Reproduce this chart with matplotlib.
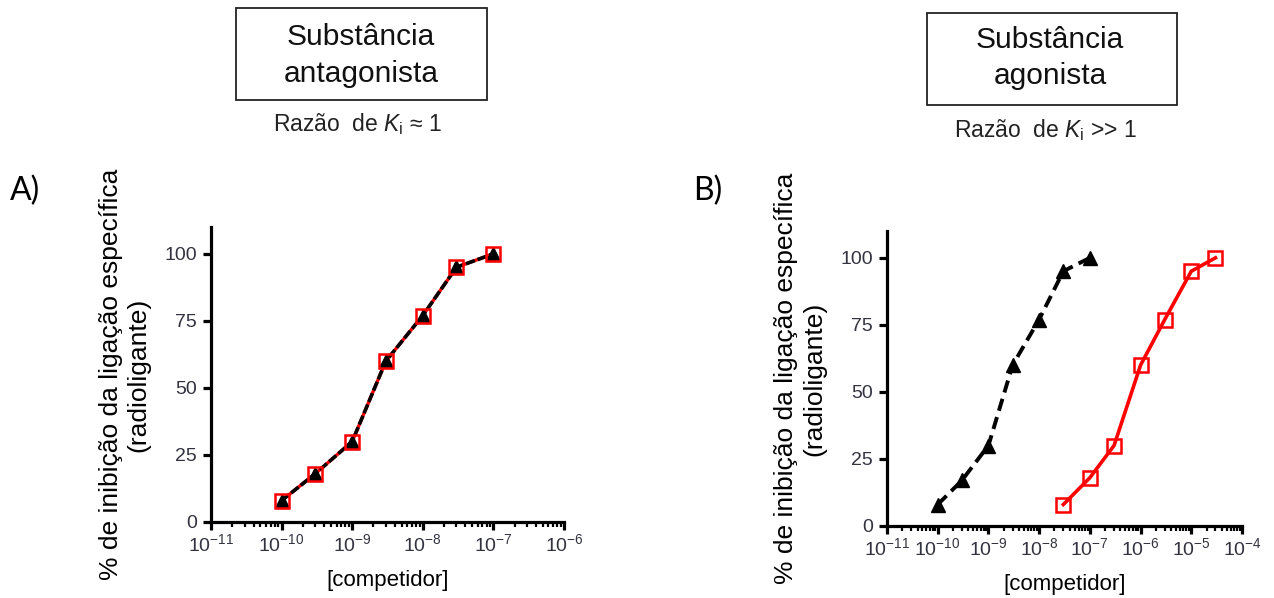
import numpy as np
import matplotlib
matplotlib.use("Agg")
import matplotlib.pyplot as plt
from matplotlib.patches import Rectangle
from matplotlib.ticker import FixedLocator, FuncFormatter, NullFormatter

plt.rcParams['font.family'] = ['Liberation Sans', 'DejaVu Sans']
plt.rcParams['mathtext.fontset'] = 'custom'
plt.rcParams['mathtext.rm'] = 'Liberation Sans'
plt.rcParams['mathtext.it'] = 'Liberation Sans:italic'

W, H = 1274, 598

# panel A: both substances overlap
conc_a = [1e-10, 3e-10, 1e-9, 3e-9, 1e-8, 3e-8, 1e-7]
inib_a = [8, 18, 30, 60, 77, 95, 100]

# panel B: radioligand (triangles) and agonist (squares)
conc_b_tri = [1e-10, 3e-10, 1e-9, 3e-9, 1e-8, 3e-8, 1e-7]
inib_b_tri = [8, 17, 30, 60, 77, 95, 100]
conc_b_sq = [3e-8, 1e-7, 3e-7, 1e-6, 3e-6, 1e-5, 3e-5]
inib_b_sq = [8, 18, 30, 60, 77, 95, 100]

y_ticks = [0, 25, 50, 75, 100]
decades_a = [-11, -10, -9, -8, -7, -6]
decades_b = [-11, -10, -9, -8, -7, -6, -5, -4]

ylabel_txt = "% de inibição da ligação específica\n(radioligante)"
xlabel_txt = "[competidor]"


def px(x, y):
    return x / W, 1 - y / H


def style_axes(ax, decades):
    majors = [10.0 ** d for d in decades]
    minors = [m * 10.0 ** d for d in decades[:-1] for m in range(2, 10)]
    ax.set_xscale('log')
    ax.set_xlim(majors[0], majors[-1])
    ax.set_ylim(0, 110)
    for s in ['top', 'right']:
        ax.spines[s].set_visible(False)
    for s in ['left', 'bottom']:
        ax.spines[s].set_linewidth(2.3)
    ax.yaxis.set_major_locator(FixedLocator(y_ticks))
    ax.xaxis.set_major_locator(FixedLocator(majors))
    ax.xaxis.set_minor_locator(FixedLocator(minors))
    ax.xaxis.set_minor_formatter(NullFormatter())
    ax.xaxis.set_major_formatter(FuncFormatter(
        lambda v, p: r'$\mathregular{10^{%d}}$' % int(round(np.log10(v)))))
    ax.tick_params(axis='both', which='major', length=6, width=2.3,
                   labelsize=14, labelcolor='#333340', direction='out')
    ax.tick_params(axis='x', which='major', pad=2)
    ax.tick_params(axis='y', which='major', pad=4)
    ax.tick_params(axis='x', which='minor', length=3.5, width=1.6, direction='out')
    ax.text(-0.245, 0.5, ylabel_txt, transform=ax.transAxes, rotation=90,
            ha='center', va='center', fontsize=19, multialignment='center')
    ax.set_xlabel(xlabel_txt, fontsize=16, labelpad=11)


fig = plt.figure(figsize=(W / 100, H / 100), dpi=100)

# ---- panel A
ax_a = fig.add_axes([211 / W, (H - 522) / H, 353 / W, 295 / H])
style_axes(ax_a, decades_a)
ax_a.plot(conc_a, inib_a, color='red', lw=2.4, zorder=2)
ax_a.plot(conc_a, inib_a, color='black', lw=2.6, ls=(0, (2.6, 0.8)), zorder=3)
ax_a.plot(conc_a, inib_a, ls='none', marker='^', ms=10, color='black', zorder=4)
ax_a.plot(conc_a, inib_a, ls='none', marker='s', ms=9.5, mfc='none', mec='red', mew=1.8, zorder=5)

# ---- panel B
ax_b = fig.add_axes([887 / W, (H - 526) / H, 355 / W, 295 / H])
style_axes(ax_b, decades_b)
ax_b.plot(conc_b_sq, inib_b_sq, color='red', lw=2.6, zorder=2)
ax_b.plot(conc_b_tri, inib_b_tri, color='black', lw=2.8, ls=(0, (3.2, 1.7)), zorder=3)
ax_b.plot(conc_b_tri, inib_b_tri, ls='none', marker='^', ms=10, color='black', zorder=4)
ax_b.plot(conc_b_sq, inib_b_sq, ls='none', marker='s', ms=9.5, mfc='none', mec='red', mew=1.8, zorder=5)

for a in (ax_a, ax_b):
    for ln in a.lines:
        ln.set_clip_on(False)

# ---- panel letters
fig.text(*px(10, 200), "A)", fontsize=23, family=['Lato', 'DejaVu Sans'], ha='left', va='baseline')
fig.text(*px(693, 200), "B)", fontsize=23, family=['Lato', 'DejaVu Sans'], ha='left', va='baseline')

# ---- header boxes
boxes = [
    (236, 8, 487, 100, ["Substância", "antagonista"], [45, 82], 361,
     r"Razão  de $K_\mathregular{i}$ ≈ 1", 131),
    (927, 13, 1177, 105, ["Substância", "agonista"], [48, 84], 1050,
     r"Razão  de $K_\mathregular{i}$ >> 1", 137),
]
for x0, y0, x1, y1, lines, bases, cx, razao, rb in boxes:
    bx, by = px(x0, y1)
    fig.patches.append(Rectangle((bx, by), (x1 - x0) / W, (y1 - y0) / H,
                                 transform=fig.transFigure, fill=False,
                                 edgecolor='#222222', lw=1.3))
    for t, b in zip(lines, bases):
        fig.text(*px(cx, b), t, fontsize=21.5, ha='center', va='baseline', color='#111111')
    fig.text(*px(cx - 4, rb), razao, fontsize=16.5, ha='center', va='baseline', color='#222222')

fig.savefig("out.png", dpi=100)
